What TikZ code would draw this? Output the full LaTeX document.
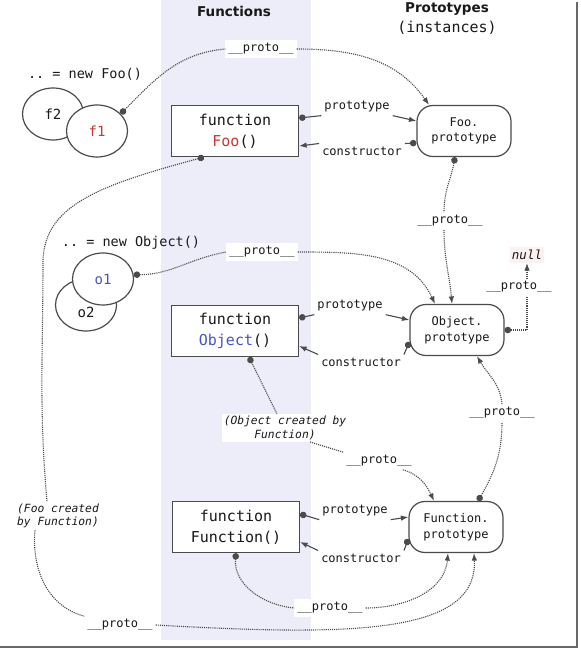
\documentclass[tikz,border=0pt]{standalone}
\usepackage{fontspec}
\setmainfont{DejaVu Sans}
\setsansfont{DejaVu Sans}
\setmonofont{DejaVu Sans Mono}
\usepackage{tikz}
\usetikzlibrary{arrows.meta,calc,positioning,shapes.geometric}
\definecolor{colShade}{RGB}{237,237,250}
\definecolor{fooRed}{RGB}{200,55,50}
\definecolor{objBlue}{RGB}{70,85,190}
\definecolor{lineGray}{RGB}{75,75,75}
\definecolor{frameGray}{RGB}{105,105,105}
\definecolor{nullPink}{RGB}{252,240,240}
\tikzset{
  bullet/.tip = {Circle[length=6.5pt]},
  proto schemes/.style = {
    x = 1pt, y = -1pt,
    >= {Latex[length=7.5pt,width=5.5pt]},
    every node/.style = {text=black!90},
    % function boxes and prototypes
    fbox/.style = {draw=lineGray, line width=1.2pt, fill=white,
      minimum width=127pt, minimum height=51pt, inner sep=0pt, align=center,
      font=\ttfamily\fontsize{15}{21}\selectfont},
    pbox/.style = {fbox, rounded corners=16pt, minimum width=94pt,
      font=\ttfamily\fontsize{12}{15.5}\selectfont},
    inst/.style = {ellipse, draw=lineGray, line width=1.2pt, fill=white,
      minimum width=61pt, minimum height=52pt, inner sep=0pt,
      font=\ttfamily\fontsize{14}{16}\selectfont},
    % labels
    lbl/.style  = {inner sep=3pt, font=\ttfamily\fontsize{12}{14}\selectfont},
    plbl/.style = {lbl, fill=white},
    note/.style = {fill=white, inner sep=2pt, align=center,
      font=\ttfamily\itshape\fontsize{11.3}{13.5}\selectfont},
    % lines
    sline/.style = {line width=1.1pt, lineGray},
    dline/.style = {line width=1.1pt, lineGray, densely dotted},
  }
}
\begin{document}
\begin{tikzpicture}[proto schemes]
\def\pclinks#1#2<#3><#4>{
	\node[lbl] (#1_p) at (#3) {prototype};
	\node[lbl] (#1_c) at (#4) {constructor};
	\draw[sline, bullet-] ([yshift=13pt]#1.east) -- (#1_p.south west);
	\draw[sline, ->]      (#1_p.south east) -- ([yshift=10pt]#2.west);
	\draw[sline, bullet-] ([yshift=-12pt]#2.west) -- (#1_c.north east);
	\draw[sline, ->]      (#1_c.north west) -- ([yshift=-15pt]#1.east);
}
\useasboundingbox (0,0) rectangle (580,652);
\fill[white] (0,0) rectangle (580,652);
\fill[colShade] (161,0) rectangle (311,640);
\draw[frameGray, line width=2.5pt] (577,2) -- (577,647) -- (0,647);

\node[font=\sffamily\bfseries\fontsize{13.5}{16}\selectfont] (hfun) at (234,11) {Functions};
\node[align=center, font=\ttfamily\fontsize{15}{20}\selectfont] (hproto) at (447,19)
	{{\sffamily\bfseries\fontsize{13.5}{16}\selectfont Prototypes}\\(instances)};

%---------------------------------------------
\node[lbl, font=\ttfamily\fontsize{13.5}{16}\selectfont] (newfoo) at (85,74) {.. = new Foo()};
\node[inst] (f2) at (53,114) {f2};
\node[inst] (f1) at (97,131) {\textcolor{fooRed}{f1}};
\node[lbl, font=\ttfamily\fontsize{13.5}{16}\selectfont] (newobj) at (131,243) {.. = new Object()};
\node[inst, text height=24pt, text depth=0pt] (o2) at (86,305) {o2};
\node[inst] (o1) at (103,279) {\textcolor{objBlue}{o1}};

\node[fbox] (foo) at (235,131) {function\\\textcolor{fooRed}{Foo}()};
\node[fbox] (obj) at (235,331) {function\\\textcolor{objBlue}{Object}()};
\node[fbox] (fun) at (236,527) {function\\Function()};

\node[pbox] (fp)  at (464,131) {Foo.\\prototype};
\node[pbox] (op)  at (457,330) {Object.\\prototype};
\node[pbox] (fnp) at (456,527) {Function.\\prototype};
\node[lbl, inner xsep=2pt, fill=nullPink, font=\ttfamily\itshape\fontsize{12.5}{14}\selectfont] (nul) at (527,255) {null};

\pclinks{foo}{fp}<357,107><362,151>
\pclinks{obj}{op}<350,306><361,362>
\pclinks{fun}{fnp}<355,511><361,558>

%---------------------------------------------
\node[plbl] (p1) at (261,49) {\_\_proto\_\_};
\draw[dline, bullet-] (f1.36) to[out=45,in=185] (p1.west);
\draw[dline, ->]      (p1.east) to[out=0,in=125] ([xshift=-35pt]fp.north);

\node[plbl] (p3) at (262,252) {\_\_proto\_\_};
\draw[dline, bullet-] (o1.8) to[out=0,in=190] (p3.west);
\draw[dline, ->]      (p3.east) to[out=0,in=115] ([xshift=-22pt]op.north);

\node[plbl] (p4) at (450,221) {\_\_proto\_\_};
\draw[dline, bullet-] ([xshift=-9pt]fp.south) to[out=-100,in=90] ([xshift=-6pt]p4.north);
\draw[dline, ->]      ([xshift=-6pt]p4.south) to[out=-90,in=95] ([xshift=-5pt]op.north);

\draw[dline, bullet->] (op.east) -| node[plbl, pos=0.82, xshift=-8pt] (p6) {\_\_proto\_\_} (nul.south);

\node[plbl] (p7) at (502,413) {\_\_proto\_\_};
\draw[dline, bullet-] ([xshift=22pt]fnp.north) to[out=60,in=-90] (p7.south);
\draw[dline, ->]      (p7.north) to[out=95,in=-60] ([xshift=20pt]op.south);

\node[note] (ocf) at (285,428) {(Object created by\\Function)};
\node[plbl] (p8) at (379,461) {\_\_proto\_\_};
\draw[dline, bullet-] ([xshift=14pt]obj.south) -- ([xshift=-8pt]ocf.north);
\draw[dline]          ([xshift=25pt]ocf.south) -- (p8.north west);
\draw[dline, ->]      ([xshift=-12pt]p8.south east) to[out=-15,in=115] ([xshift=-22pt]fnp.north);

\node[plbl] (p9) at (330,608) {\_\_proto\_\_};
\draw[dline, bullet-] (fun.south) to[out=-95,in=175] (p9.west);
\draw[dline, ->]      (p9.east) to[out=0,in=-95] ([xshift=-8pt]fnp.south);

\node[note] (fcf) at (58,516) {(Foo created\\by Function)};
\node[plbl] (p5) at (120,625) {\_\_proto\_\_};
\draw[dline, bullet-] ([xshift=-31pt]foo.south) .. controls (100,185) and (45,205) .. (43,260)
	to[out=-90,in=95] ([xshift=-11pt]fcf.north);
\draw[dline]          ([xshift=-23pt]fcf.south) to[out=-95,in=165] (p5.north west);
\draw[dline, ->]      (p5.east) .. controls (350,636) and (478,635) .. ([xshift=18pt]fnp.south);

\end{tikzpicture}
\end{document}
